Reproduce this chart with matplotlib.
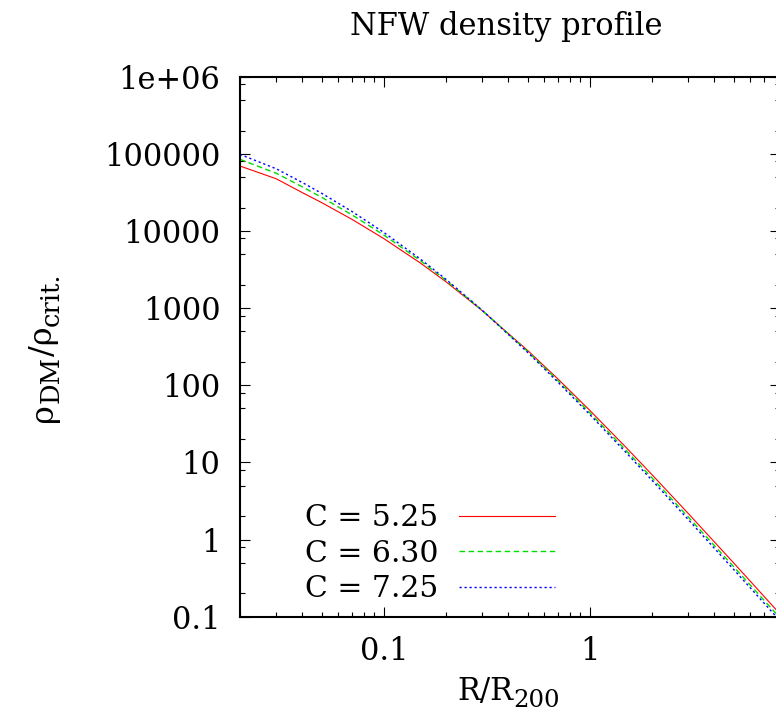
import matplotlib
matplotlib.use('Agg')
import matplotlib.pyplot as plt
from matplotlib.ticker import LogLocator, NullFormatter

# radius in units of R200
r = [0.02, 0.03, 0.04, 0.05, 0.07, 0.1, 0.15, 0.2, 0.3, 0.5, 0.7, 1, 1.5, 2, 3, 5, 7, 9]

# rho_DM / rho_crit for the three concentrations
rho_c525 = [69500, 47500, 31600, 23230, 14140, 7960, 3863, 2203, 930.7, 281.8, 121.0,
            47.39, 15.67, 7.00, 2.20, 0.4986, 0.1856, 0.0884]
rho_c630 = [84900, 56000, 37520, 27210, 16180, 8854, 4145, 2303, 938.8, 273.2, 114.8,
            44.14, 14.36, 6.359, 1.980, 0.4454, 0.1652, 0.0785]
rho_c725 = [98400, 64000, 42750, 30660, 17890, 9563, 4354, 2370, 941.0, 266.1, 110.15,
            41.81, 13.45, 5.922, 1.833, 0.4102, 0.1518, 0.0720]

labels = ['C = 5.25', 'C = 6.30', 'C = 7.25']

yticks = [0.1, 1, 10, 100, 1000, 10000, 100000, 1e6]
ytick_labels = ['0.1', '1', '10', '100', '1000', '10000', '100000', '1e+06']
xticks = [0.1, 1]
xtick_labels = ['0.1', '1']

plt.rcParams['font.family'] = ['DejaVu Serif']
fs = 22
fsub = 17.6

W, H = 776, 727
fig = plt.figure(figsize=(W/100, H/100), dpi=100)
ax = fig.add_axes([240/W, 1-616.7/H, 540/W, 540/H])

ax.plot(r, rho_c525, color='#ff0000', lw=0.8, ls='-', label=labels[0])
ax.plot(r, rho_c630, color='#00dd00', lw=1.0, ls=(0, (4, 2.5)), label=labels[1])
ax.plot(r, rho_c725, color='#0000ff', lw=1.0, ls=(0, (1.6, 2)), label=labels[2])

ax.set_xscale('log')
ax.set_yscale('log')
ax.set_xlim(0.02, 8.4)
ax.set_ylim(0.1, 1e6)

ax.set_yticks(yticks, ytick_labels)
ax.set_xticks(xticks, xtick_labels)
ax.yaxis.set_minor_locator(LogLocator(base=10, subs=[2, 5, 8], numticks=20))
ax.xaxis.set_minor_locator(LogLocator(base=10, subs=[2, 3, 4, 5, 6, 7, 8, 9], numticks=20))
ax.xaxis.set_minor_formatter(NullFormatter())
ax.yaxis.set_minor_formatter(NullFormatter())

ax.tick_params(which='both', direction='in', top=True, right=True, labelsize=fs, width=0.8)
ax.tick_params(which='major', length=7)
ax.tick_params(which='minor', length=3.5)
ax.tick_params(axis='x', pad=14)
ax.tick_params(axis='y', pad=14)
for s in ax.spines.values():
    s.set_linewidth(1.5)

leg = ax.legend(loc='lower left', bbox_to_anchor=(0.12, 0.025), frameon=False,
                markerfirst=False, fontsize=21.5, handlelength=3.2, handletextpad=0.7,
                labelspacing=0.25, borderpad=0, borderaxespad=0)

fig.text(506/W, 1-27/H, 'NFW density profile', ha='center', va='center', fontsize=fs)

# x label: R/R with subscript 200
xl = fig.text(457/W, 27/H, 'R/R', ha='left', va='baseline', fontsize=fs)
ax.annotate('200', xy=(1, 20), xycoords=(xl, 'figure pixels'), ha='left', va='baseline',
            fontsize=fsub, annotation_clip=False)

# y label: rho_DM / rho_crit.
kw = dict(rotation=90, rotation_mode='anchor', ha='left', va='baseline', annotation_clip=False)
p1 = ax.annotate('ρ', xy=(52, 305), xycoords='figure pixels', fontsize=fs + 1, **kw)
s1 = ax.annotate('DM', xy=(59, 1), xycoords=('figure pixels', p1), fontsize=fsub + 1, **kw)
p2 = ax.annotate('/ρ', xy=(52, 1), xycoords=('figure pixels', s1), fontsize=fs + 1, **kw)
s2 = ax.annotate('crit.', xy=(59, 1), xycoords=('figure pixels', p2), fontsize=fsub + 1, **kw)

fig.savefig('out.png', dpi=100)
